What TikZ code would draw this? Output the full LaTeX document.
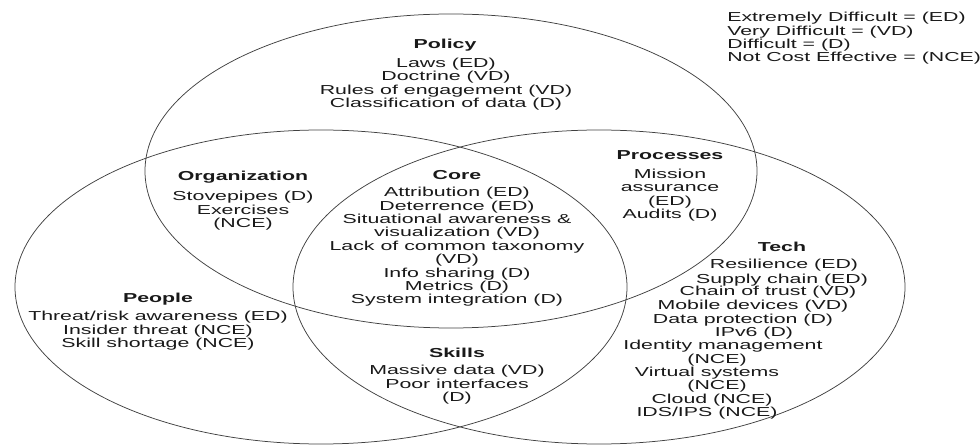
\documentclass[tikz,border=0pt]{standalone}
\usepackage{fontspec}
\setmainfont{Liberation Sans}
\usepackage{tikz}
\usetikzlibrary{positioning}

\begin{document}
\begin{tikzpicture}[x=1pt,y=-1pt]
        \tikzstyle{every node}=[font=\fontsize{13}{13.4}\selectfont, text=black!90, inner sep=0pt, xscale=1.64]
        \tikzstyle{set} = [draw=black!75, line width=0.75pt]
        \tikzstyle{heading} = [font=\fontsize{13}{13.4}\selectfont\bfseries]
        \tikzstyle{items} = [align=center]

        \useasboundingbox (0,0) rectangle (980,446);

        % the three sets
        \draw[set] (451,171) ellipse [x radius=306, y radius=157];
        \draw[set] (321,287) ellipse [x radius=306, y radius=157];
        \draw[set] (599,287) ellipse [x radius=306, y radius=157];

        % legend
        \node[align=left, anchor=west](legend) at (727,38.5) {Extremely Difficult = (ED)\\ Very Difficult = (VD)\\ Difficult = (D)\\ Not Cost Effective = (NCE)};

        % policy
        \node[heading](policy) at (445,45) {Policy};
        \node[items](policyitems) at (446,84) {Laws (ED)\\ Doctrine (VD)\\ Rules of engagement (VD)\\ Classification of data (D)};

        % organization
        \node[heading](org) at (243,177) {Organization};
        \node[items](orgitems) at (243,211) {Stovepipes (D)\\ Exercises\\ (NCE)};

        % core
        \node[heading](core) at (457,175) {Core};
        \node[items](coreitems) at (457,247) {Attribution (ED)\\ Deterrence (ED)\\ Situational awareness \&\\ visualization (VD)\\ Lack of common taxonomy\\ (VD)\\ Info sharing (D)\\ Metrics (D)\\ System integration (D)};

        % processes
        \node[heading](proc) at (670,155) {Processes};
        \node[items](procitems) at (670,195) {Mission\\ assurance\\ (ED)\\ Audits (D)};

        % people
        \node[heading](people) at (158,299) {People};
        \node[items](peopleitems) at (158,331) {Threat/risk awareness (ED)\\ Insider threat (NCE)\\ Skill shortage (NCE)};

        % skills
        \node[heading](skills) at (457,353) {Skills};
        \node[items](skillsitems) at (457,385) {Massive data (VD)\\ Poor interfaces\\ (D)};

        % tech, one line at a time
        \node[heading](tech) at (782,247) {Tech};
        \foreach \x/\y/\t [count=\i] in {784/265/Resilience (ED), 782/280/Supply chain (ED), 768/292/Chain of trust (VD), 753/306/Mobile devices (VD), 743/320/Data protection (D), 754/333/IPv6 (D), 723/346/Identity management, 717/360/(NCE), 707/373/Virtual systems, 717/386/(NCE), 712/400/Cloud (NCE), 707/413/{IDS/IPS (NCE)}}
            \node(tech\i) at (\x,\y) {\t};
\end{tikzpicture}
\end{document}
